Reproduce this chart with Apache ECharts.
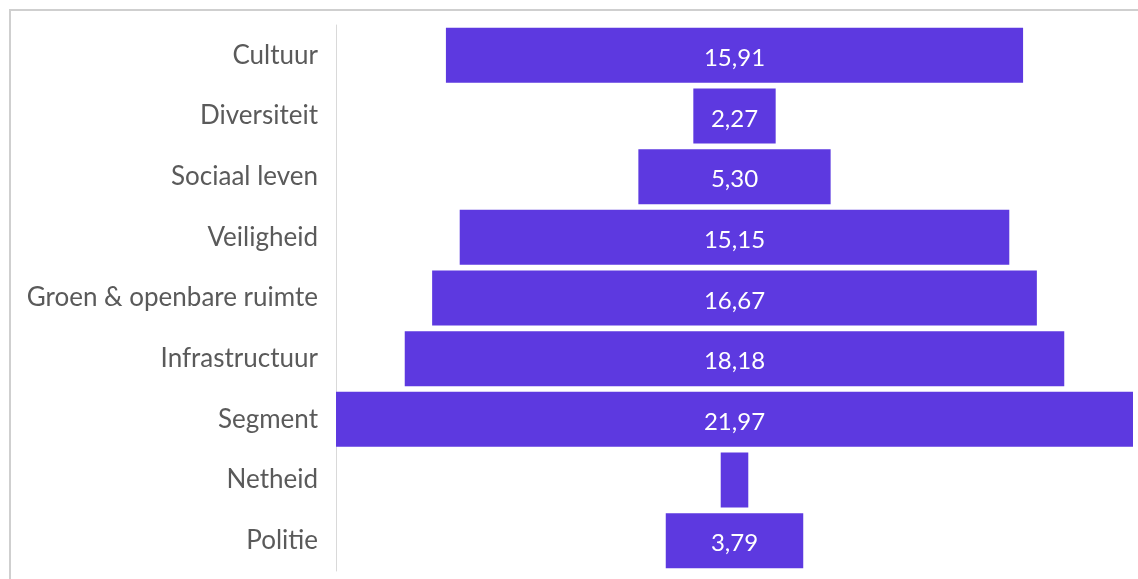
<!DOCTYPE html>
<html>
<head>
<meta charset="utf-8">
<script src="https://cdn.jsdelivr.net/npm/echarts@6/dist/echarts.min.js"></script>
<style>
html,body{margin:0;padding:0;background:#fff;}
#wrap{position:relative;width:1138px;height:579px;overflow:hidden;}
#frame{position:absolute;left:9px;top:9px;width:1200px;height:700px;border-top:2px solid #cfcfcf;border-left:2px solid #cfcfcf;box-sizing:border-box;}
#chart{position:absolute;left:0;top:0;width:1138px;height:579px;}
</style>
</head>
<body>
<div id="wrap"><div id="frame"></div><div id="chart"></div></div>
<script>
const categories = ["Cultuur","Diversiteit","Sociaal leven","Veiligheid","Groen & openbare ruimte","Infrastructuur","Segment","Netheid","Politie"];
const values = [15.91, 2.27, 5.30, 15.15, 16.67, 18.18, 21.97, 0.76, 3.79];
const maxValue = 21.97;

const offsets = values.map(v => (maxValue - v) / 2);
const chart = echarts.init(document.getElementById('chart'), null, {renderer:'canvas'});
chart.setOption({
  animation:false,
  backgroundColor:'transparent',
  grid:{left:336, right:5, top:25, bottom:8, containLabel:false},
  xAxis:{type:'value', min:0, max:maxValue, show:false},
  yAxis:{type:'category', data:categories, inverse:true,
    axisLine:{show:true, lineStyle:{color:'#d9d9d9', width:1}},
    axisTick:{show:false},
    axisLabel:{color:'#5a5a5a', fontSize:26, fontFamily:'Lato, "Open Sans", sans-serif', margin:18, padding:[4,0,0,0]}
  },
  series:[
    {type:'bar', stack:'s', data:offsets, itemStyle:{color:'transparent'}, barWidth:55, silent:true},
    {type:'bar', stack:'s', data:values, barWidth:55,
      itemStyle:{color:'#5d39e0'},
      label:{show:true, position:'inside', color:'#ffffff', fontSize:24, fontFamily:'Lato, "Open Sans", sans-serif',
        offset:[0,3],
        formatter: p => p.value < 1 ? '' : p.value.toFixed(2).replace('.', ',')}
    }
  ]
});
</script>
</body>
</html>
